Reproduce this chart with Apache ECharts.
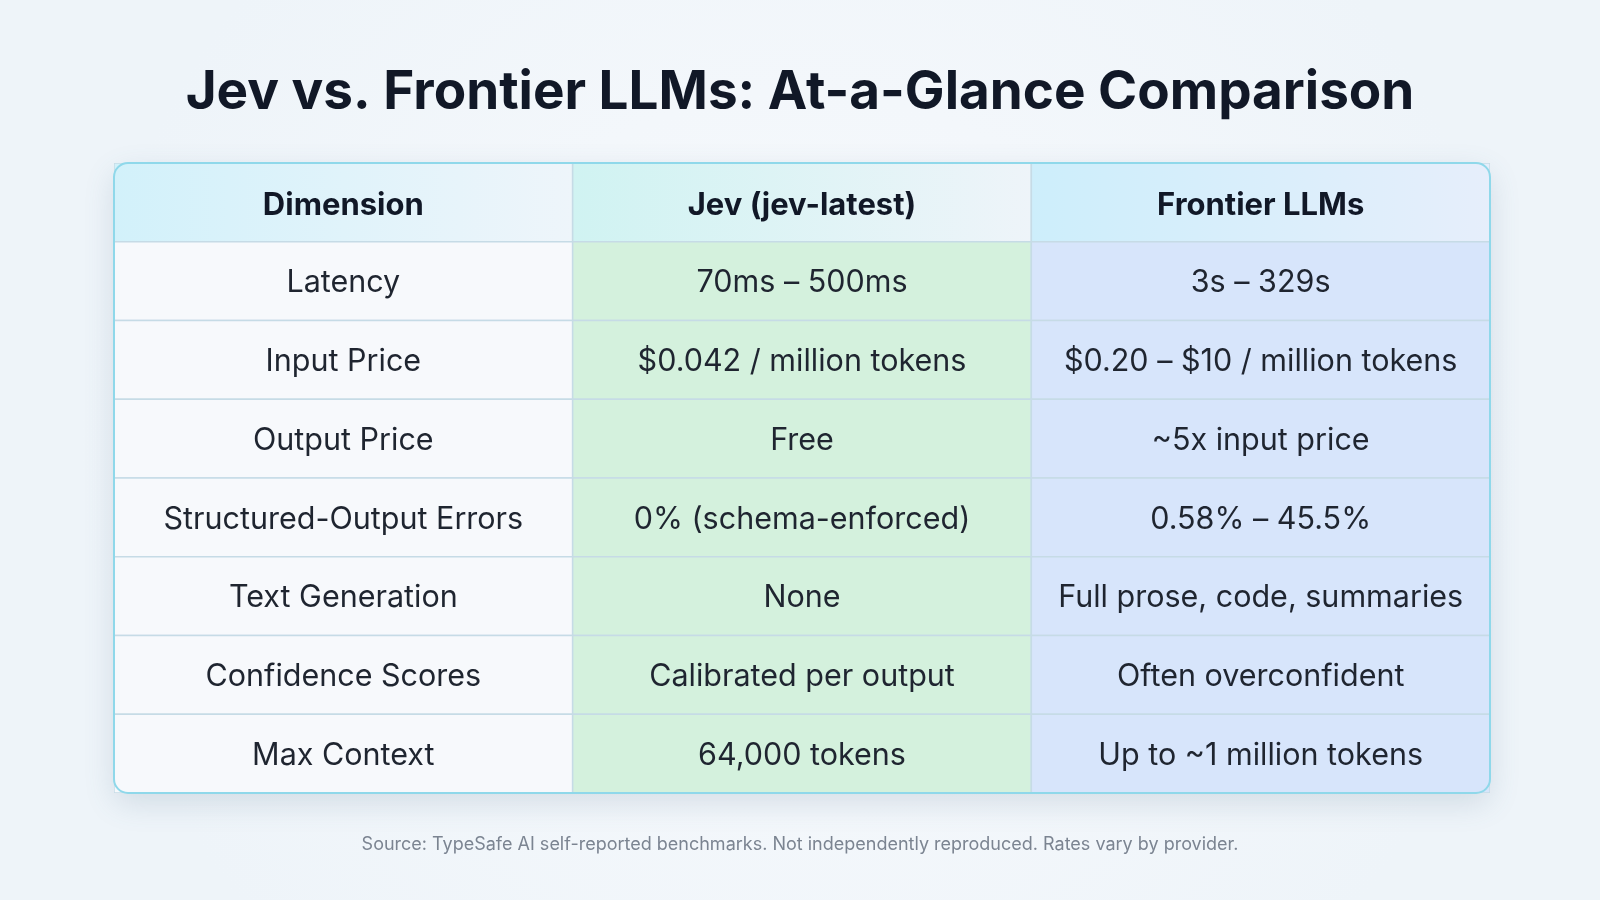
<!DOCTYPE html>
<html><head><meta charset="utf-8">
<script src="https://cdn.jsdelivr.net/npm/echarts@6/dist/echarts.min.js"></script>
<style>html,body{margin:0;padding:0;background:#f4f7fb}#c{width:1600px;height:900px}</style>
</head><body><div id="c"></div>
<script>
const columns = ['Dimension', 'Jev (jev-latest)', 'Frontier LLMs'];
const dimensions = ['Latency','Input Price','Output Price','Structured-Output Errors','Text Generation','Confidence Scores','Max Context'];
const jevValues = ['70ms – 500ms','$0.042 / million tokens','Free','0% (schema-enforced)','None','Calibrated per output','64,000 tokens'];
const frontierValues = ['3s – 329s','$0.20 – $10 / million tokens','~5x input price','0.58% – 45.5%','Full prose, code, summaries','Often overconfident','Up to ~1 million tokens'];

const rows = ['header', ...dimensions];
const cells = [];
columns.forEach((c, i) => cells.push([i, 0, c]));
dimensions.forEach((d, r) => {
  cells.push([0, r + 1, d]);
  cells.push([1, r + 1, jevValues[r]]);
  cells.push([2, r + 1, frontierValues[r]]);
});

const L = 114, T = 163, W = 1376, H = 630;
const bodyFill = ['#f7f9fc', '#d4f1dd', '#d7e5fb'];
const headFill = [
  new echarts.graphic.LinearGradient(0,0,1,0,[{offset:0,color:'#d2f1fa'},{offset:1,color:'#eef5fa'}]),
  new echarts.graphic.LinearGradient(0,0,1,0,[{offset:0,color:'#d0f3f2'},{offset:1,color:'#eef4f9'}]),
  new echarts.graphic.LinearGradient(0,0,1,0,[{offset:0,color:'#cdeefb'},{offset:1,color:'#e6eefb'}])
];

const chart = echarts.init(document.getElementById('c'));
chart.setOption({
  backgroundColor: new echarts.graphic.RadialGradient(0.5,0.5,0.8,[{offset:0,color:'#f8fafd'},{offset:1,color:'#eef4f9'}]),
  title: {
    text: 'Jev vs. Frontier LLMs: At-a-Glance Comparison',
    left: 'center', top: 62,
    textStyle: {fontFamily: 'Inter', fontSize: 53, fontWeight: 'bold', color: '#111827'}
  },
  graphic: [
    {type:'rect', z:-1, shape:{x:L,y:T,width:W,height:H,r:14}, style:{fill:'#fff', shadowBlur:30, shadowColor:'rgba(80,110,140,0.18)', shadowOffsetY:10}},
    {type:'rect', z:100, shape:{x:L,y:T,width:W,height:H,r:14}, style:{fill:'none', stroke:'#8fd8ea', lineWidth:2}},
    {type:'text', left:'center', top:836, style:{text:'Source: TypeSafe AI self-reported benchmarks. Not independently reproduced. Rates vary by provider.', fontFamily:'Inter', fontSize:18, fill:'#7b8491'}}
  ],
  grid: {left: L, top: T, width: W, height: H},
  xAxis: {type:'category', data: columns, show: false},
  yAxis: {type:'category', data: rows, inverse: true, show: false},
  series: [{
    type: 'custom',
    data: cells,
    clip: true,
    renderItem: function (params, api) {
      const c = api.value(0), r = api.value(1);
      const p = api.coord([c, r]);
      const s = api.size([1, 1]);
      const x = p[0] - s[0]/2, y = p[1] - s[1]/2;
      const head = r === 0;
      return {
        type: 'group',
        children: [
          {type:'rect', shape:{x:x, y:y, width:s[0], height:s[1]},
           style:{fill: head ? headFill[c] : bodyFill[c], stroke:'#c6dbe6', lineWidth:1.5}},
          {type:'text', style:{x:p[0], y:p[1] + (head ? 3 : 2), text: cells[params.dataIndex][2], align:'center', verticalAlign:'middle',
            fontFamily:'Inter', fontSize: head ? 31 : 30.5, fontWeight: head ? 'bold' : 'normal', fill: head ? '#111827' : '#1f2530'}}
        ]
      };
    }
  }]
});
</script></body></html>
